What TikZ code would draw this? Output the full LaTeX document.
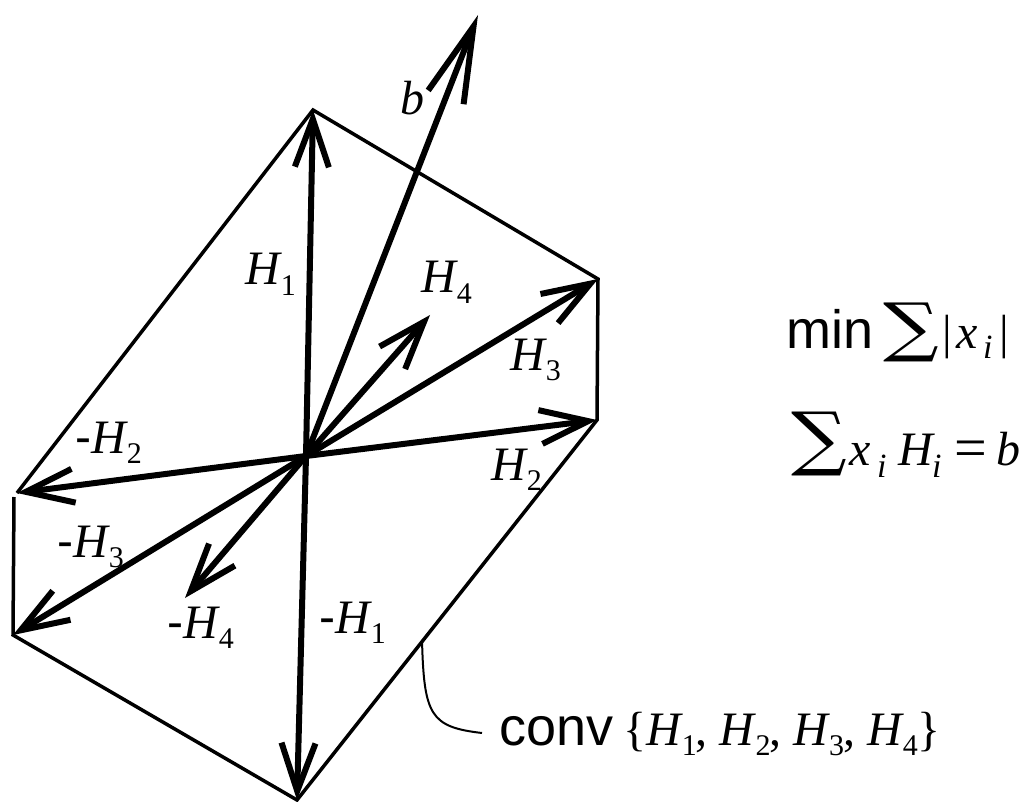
\documentclass[tikz,border=0pt]{standalone}
\usepackage{fontspec}
\setmainfont{Liberation Serif}
\newfontfamily\sansf{Liberation Sans}
\newfontfamily\sumf{DejaVu Serif}
\usetikzlibrary{arrows.meta}
\newcommand{\subsc}[1]{\raisebox{-10pt}{\fontsize{30}{30}\selectfont #1}}
\newcommand{\Hs}[1]{{\itshape H}\kern1pt\subsc{#1}}
\newcommand{\mns}{{\sansf -}}
\newcommand{\bigsum}[1]{\scalebox{1}[#1]{\fontsize{78}{78}\selectfont\sumf ∑}}
\begin{document}
\begin{tikzpicture}[x=1pt,y=-1pt,
  vec/.style={line width=6pt,-{Straight Barb[length=48pt,width=34pt,line width=6pt]}},
  bvec/.style={line width=6pt,-{Straight Barb[length=76pt,width=38pt,line width=6pt]}},
  hull/.style={line width=3.5pt},
  lead/.style={line width=2pt},
  lab/.style={font=\fontsize{48}{48}\selectfont,inner sep=0pt,anchor=base west},
  sublab/.style={font=\fontsize{34}{34}\selectfont\itshape,inner sep=0pt,anchor=base west},
  sanslab/.style={font=\fontsize{54}{54}\selectfont\sansf,inner sep=0pt,anchor=base west},
  sig/.style={inner sep=0pt,anchor=center}]
\useasboundingbox (0,0) rectangle (1033,802);
% points
\coordinate (O) at (306,456);
\coordinate (h1) at (313,110);
\coordinate (h2) at (597,420);
\coordinate (h3) at (598,279);
\coordinate (h4) at (430,315);
\coordinate (m1) at (297,800);
\coordinate (m2) at (17,493);
\coordinate (m2b) at (14,497);
\coordinate (m3) at (13,635);
\coordinate (m4) at (185,598);
\coordinate (bt) at (478,15);
% hull
\draw[hull,line join=miter] (m2) -- (h1) -- (h3) -- (h2) -- (m1) -- (m3) -- (m2b);
% vectors
\draw[vec] (O) -- (h1);
\draw[vec] (O) -- (h2);
\draw[vec] (O) -- (h3);
\draw[vec] (O) -- (h4);
\draw[vec] (O) -- (m1);
\draw[vec] (O) -- (m2);
\draw[vec] (O) -- (m3);
\draw[vec] (O) -- (m4);
\draw[bvec] (O) -- (bt);
% labels
\node[lab] (lb) at (400,115) {\itshape b};
\node[lab] (lh1) at (245,285) {\Hs{1}};
\node[lab] (lh4) at (421,293) {\Hs{4}};
\node[lab] (lh3) at (510,370) {\Hs{3}};
\node[lab] (lh2) at (491,480) {\Hs{2}};
\node[lab] (lm2) at (75,453) {\mns\Hs{2}};
\node[lab] (lm3) at (57,557) {\mns\Hs{3}};
\node[lab] (lm4) at (167,638) {\mns\Hs{4}};
\node[lab] (lm1) at (319,633) {\mns\Hs{1}};
% leader to hull
\coordinate (c0) at (422,640);
\coordinate (c1) at (482,733);
\draw[lead] (c0) .. controls (424,715) and (430,727) .. (c1);
\node[sanslab] (conv) at (499,745) {conv};
\node[lab] (set) at (623,745)
  {\{\Hs{1}\kern-1pt, \Hs{2}\kern-1pt, \Hs{3}\kern-1pt, \Hs{4}\}};
% formula 1
\node[sanslab] (min) at (786,348) {min};
\node[sig] (s1) at (911,332) {\bigsum{0.83}};
\node[lab] (bar1) at (942,348) {|};
\node[lab] (x1) at (956,348) {\itshape x};
\node[sublab] (i1) at (983,358) {i};
\node[lab] (bar2) at (999,348) {|};
% formula 2
\node[sig] (s2) at (819,444) {\bigsum{0.9}};
\node[lab] (x2) at (849,465) {\itshape x};
\node[sublab] (i2) at (877,477) {i};
\node[lab] (H2) at (898,465) {\itshape H};
\node[sublab] (i3) at (932,477) {i};
\node[inner sep=0pt,anchor=base west,font=\fontsize{58}{58}\selectfont] (eq) at (954,467) {=};
\node[lab] (b2) at (996,465) {\itshape b};
\end{tikzpicture}
\end{document}
